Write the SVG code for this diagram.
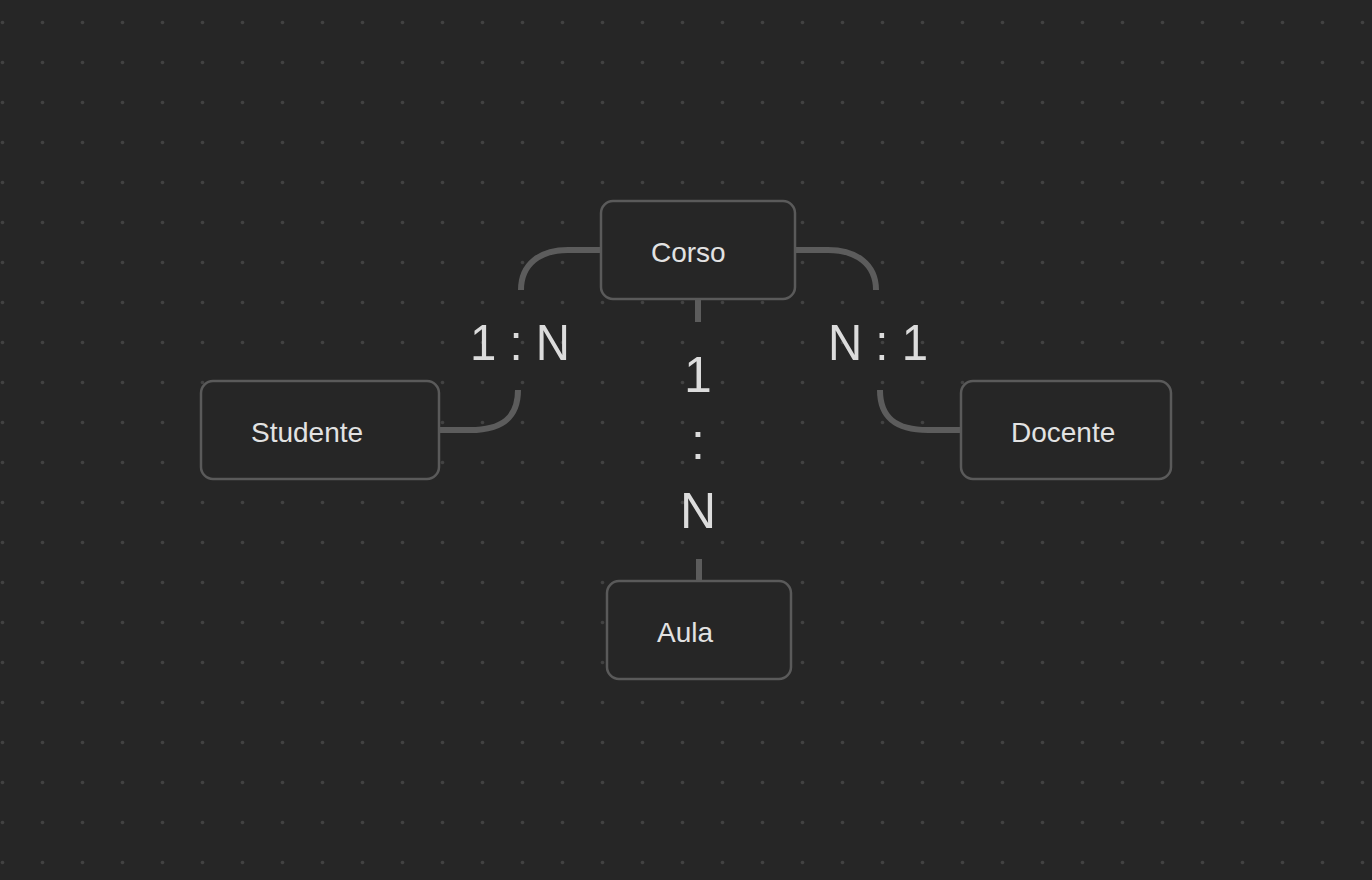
<svg xmlns="http://www.w3.org/2000/svg" width="1372" height="880" viewBox="0 0 1372 880">
<style>
.node rect{fill:#262626;stroke:#5a5a5a;stroke-width:2.5}
.node text{font-family:"Liberation Sans",Arial,sans-serif;font-size:28px;fill:#e2e2e2}
.conn{fill:none;stroke:#5c5c5c;stroke-width:6}
.lbl{font-family:"Liberation Sans",Arial,sans-serif;font-size:50px;fill:#dcdcdc;text-anchor:middle}
</style>
<defs>
<pattern id="dots" x="0" y="0" width="40" height="40" patternUnits="userSpaceOnUse">
<circle cx="2.5" cy="22.5" r="1.8" fill="#424242"/>
</pattern>
</defs>
<rect width="1372" height="880" fill="#262626"/>
<rect width="1372" height="880" fill="url(#dots)"/>
<g id="connectors">
<path class="conn" d="M601 250 H568 C540 250 521 264 521 290"/>
<path class="conn" d="M518 390 C518 418 502 430 470 430 H440"/>
<path class="conn" d="M795 250 H828 C856 250 876 264 876 290"/>
<path class="conn" d="M880 390 C880 418 896 430 928 430 H961"/>
<path class="conn" d="M698 299 V322"/>
<path class="conn" d="M699 559 V581"/>
<text class="lbl" x="520" y="360" textLength="100" lengthAdjust="spacingAndGlyphs">1 : N</text>
<text class="lbl" x="878" y="360" textLength="100" lengthAdjust="spacingAndGlyphs">N : 1</text>
<text class="lbl" x="698" y="392">1</text>
<text class="lbl" x="698" y="459">:</text>
<text class="lbl" x="698" y="528">N</text>
</g>
<g id="corso" class="node"><rect x="601" y="201" width="194" height="98" rx="12"/><text x="651" y="262">Corso</text></g>
<g id="studente" class="node"><rect x="201" y="381" width="238" height="98" rx="12"/><text x="251" y="442">Studente</text></g>
<g id="docente" class="node"><rect x="961" y="381" width="210" height="98" rx="12"/><text x="1011" y="442">Docente</text></g>
<g id="aula" class="node"><rect x="607" y="581" width="184" height="98" rx="12"/><text x="657" y="642">Aula</text></g>
</svg>
